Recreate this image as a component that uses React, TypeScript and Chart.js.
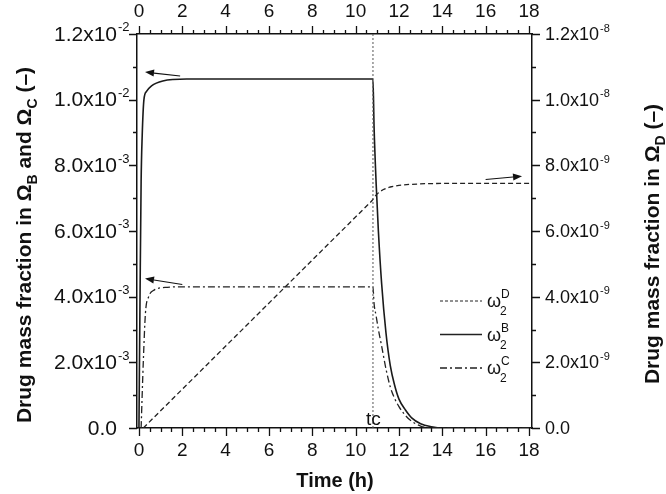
import React, { useEffect, useRef } from "react";
import { Chart, registerables } from "chart.js";

Chart.register(...registerables);

const FONT = '"Liberation Sans", Arial, Helvetica, sans-serif';

// ---- data ----
const tc = 10.8;

const timeB = [0, 0.05, 0.1, 0.15, 0.23, 0.35, 0.58, 1.1, 2.2, 5, 10.8, 10.85, 10.95, 11.05, 11.2, 11.4, 11.6, 11.8, 12.0, 12.3, 12.6, 13.0, 13.5, 14.0, 18.14];
const omegaB = [0, 0.004, 0.0075, 0.0089, 0.01, 0.01025, 0.01042, 0.01057, 0.01063, 0.01063, 0.01063, 0.0092, 0.0074, 0.006, 0.0044, 0.0029, 0.0019, 0.0013, 0.00088, 0.00055, 0.0003, 0.00013, 0.00004, 0, 0];

const timeC = [0.1, 0.2, 0.3, 0.45, 0.7, 1.2, 2.0, 10.8, 10.85, 10.95, 11.05, 11.2, 11.4, 11.6, 11.8, 12.0, 12.2, 12.5, 13.0, 13.5, 18.14];
const omegaC = [0, 0.002, 0.0035, 0.004, 0.0042, 0.00428, 0.0043, 0.0043, 0.0038, 0.0034, 0.003, 0.0025, 0.0018, 0.00125, 0.0009, 0.00065, 0.00046, 0.00025, 0.00006, 0, 0];

const timeD = [0.2, 10.75, 10.85, 10.95, 11.1, 11.3, 11.6, 12.0, 12.5, 13.2, 14.0, 18.14];
const omegaD = [0, 6.92e-9, 7.02e-9, 7.1e-9, 7.19e-9, 7.27e-9, 7.34e-9, 7.39e-9, 7.42e-9, 7.44e-9, 7.45e-9, 7.45e-9];

const xMajor = [0, 2, 4, 6, 8, 10, 12, 14, 16, 18];
const xLabels = ["0", "2", "4", "6", "8", "10", "12", "14", "16", "18"];
const yLeftTicks = [0, 0.002, 0.004, 0.006, 0.008, 0.01, 0.012];
const yLeftMant = ["0.0", "2.0x10", "4.0x10", "6.0x10", "8.0x10", "1.0x10", "1.2x10"];
const yLeftExp = ["", "-3", "-3", "-3", "-3", "-2", "-2"];
const yRightTicks = [0, 2e-9, 4e-9, 6e-9, 8e-9, 1e-8, 1.2e-8];
const yRightMant = ["0.0", "2.0x10", "4.0x10", "6.0x10", "8.0x10", "1.0x10", "1.2x10"];
const yRightExp = ["", "-9", "-9", "-9", "-9", "-8", "-8"];

// arrows in data units: [x0, y0, x1, y1, axis]
const arrows: [number, number, number, number, string][] = [
  [1.9, 0.01072, 0.28, 0.01084, "y"],
  [2.0, 0.00437, 0.28, 0.00455, "y"],
  [16.0, 7.57e-9, 17.68, 7.67e-9, "y2"],
];

const X_MIN = -0.09;
const X_MAX = 18.14;

const INK = "#111";

// anchor: x is right end of mantissa ("right") or left start ("left"); exponent hangs after mantissa
function drawSci(ctx: CanvasRenderingContext2D, mant: string, exp: string, x: number, y: number, align: string, size: number) {
  const es = Math.round(size * 0.62);
  ctx.font = `${size}px ${FONT}`;
  const wm = ctx.measureText(mant).width;
  const sx = align === "right" ? x - wm : x;
  ctx.textAlign = "left";
  ctx.textBaseline = "middle";
  ctx.fillText(mant, sx, y + 1);
  if (exp) {
    ctx.font = `${es}px ${FONT}`;
    ctx.fillText(exp, sx + wm + 1, y - size * 0.3);
  }
}

type Seg = { t: string; sub?: boolean; sup?: boolean };

function richWidth(ctx: CanvasRenderingContext2D, segs: Seg[], size: number, bold: boolean) {
  let w = 0;
  for (const s of segs) {
    const fs = s.sub || s.sup ? Math.round(size * 0.65) : size;
    ctx.font = `${bold ? "bold " : ""}${fs}px ${FONT}`;
    w += ctx.measureText(s.t).width;
  }
  return w;
}

function drawRich(ctx: CanvasRenderingContext2D, segs: Seg[], x: number, y: number, size: number, bold: boolean) {
  let cx = x;
  ctx.textAlign = "left";
  ctx.textBaseline = "alphabetic";
  for (const s of segs) {
    const fs = s.sub || s.sup ? Math.round(size * 0.65) : size;
    ctx.font = `${bold ? "bold " : ""}${fs}px ${FONT}`;
    const dy = s.sub ? size * 0.3 : s.sup ? -size * 0.45 : 0;
    ctx.fillText(s.t, cx, y + dy);
    cx += ctx.measureText(s.t).width;
  }
}

function arrow(ctx: CanvasRenderingContext2D, x0: number, y0: number, x1: number, y1: number) {
  const ang = Math.atan2(y1 - y0, x1 - x0);
  const hl = 9;
  const hw = 3.5;
  const bx = x1 - hl * Math.cos(ang);
  const by = y1 - hl * Math.sin(ang);
  ctx.beginPath();
  ctx.moveTo(x0, y0);
  ctx.lineTo(bx, by);
  ctx.lineWidth = 1.1;
  ctx.strokeStyle = INK;
  ctx.setLineDash([]);
  ctx.stroke();
  ctx.beginPath();
  ctx.moveTo(x1, y1);
  ctx.lineTo(bx + hw * Math.sin(ang), by - hw * Math.cos(ang));
  ctx.lineTo(bx - hw * Math.sin(ang), by + hw * Math.cos(ang));
  ctx.closePath();
  ctx.fillStyle = INK;
  ctx.fill();
}

const decor = {
  id: "decor",
  afterDraw(chart: any) {
    const { ctx, chartArea: ca, scales } = chart;
    const sx = scales.x;
    const sy = scales.y;
    const sy2 = scales.y2;
    ctx.save();
    ctx.strokeStyle = INK;
    ctx.fillStyle = INK;
    ctx.lineWidth = 1.3;
    ctx.setLineDash([]);
    // x ticks
    for (let v = 0; v <= 18.001; v += 0.5) {
      const px = Math.round(sx.getPixelForValue(v)) + 0.5;
      const major = Math.abs(v / 2 - Math.round(v / 2)) < 1e-6;
      const len = major ? 8 : 4;
      ctx.beginPath();
      ctx.moveTo(px, ca.bottom);
      ctx.lineTo(px, ca.bottom + len);
      ctx.moveTo(px, ca.top);
      ctx.lineTo(px, ca.top - len);
      ctx.stroke();
    }
    // y ticks
    for (let i = 0; i <= 12; i++) {
      const py = Math.round(sy.getPixelForValue(i * 0.001)) + 0.5;
      const len = i % 2 === 0 ? 8 : 4;
      ctx.beginPath();
      ctx.moveTo(ca.left - len, py);
      ctx.lineTo(ca.left, py);
      ctx.moveTo(ca.right, py);
      ctx.lineTo(ca.right + len, py);
      ctx.stroke();
    }
    // x labels
    ctx.font = `19px ${FONT}`;
    ctx.textAlign = "center";
    ctx.textBaseline = "middle";
    xMajor.forEach((v, i) => {
      const px = sx.getPixelForValue(v);
      ctx.fillText(xLabels[i], px, ca.bottom + 23);
      ctx.fillText(xLabels[i], px, ca.top - 22);
    });
    // y labels
    yLeftTicks.forEach((v, i) => {
      drawSci(ctx, yLeftMant[i], yLeftExp[i], ca.left - 20, sy.getPixelForValue(v), "right", 21);
    });
    yRightTicks.forEach((v, i) => {
      drawSci(ctx, yRightMant[i], yRightExp[i], ca.right + 13, sy2.getPixelForValue(v), "left", 18);
    });
    // axis titles
    const leftTitle: Seg[] = [
      { t: "Drug mass fraction in Ω" },
      { t: "B", sub: true },
      { t: " and Ω" },
      { t: "C", sub: true },
      { t: " (–)" },
    ];
    const rightTitle: Seg[] = [
      { t: "Drug mass fraction in Ω" },
      { t: "D", sub: true },
      { t: " (–)" },
    ];
    const TS = 21;
    ctx.save();
    ctx.translate(31, 245);
    ctx.rotate(-Math.PI / 2);
    const wl = richWidth(ctx, leftTitle, TS, true);
    drawRich(ctx, leftTitle, -wl / 2, 0, TS, true);
    ctx.restore();
    ctx.save();
    ctx.translate(659, 244);
    ctx.rotate(-Math.PI / 2);
    const wr = richWidth(ctx, rightTitle, TS, true);
    drawRich(ctx, rightTitle, -wr / 2, 0, TS, true);
    ctx.restore();
    ctx.font = `bold 20px ${FONT}`;
    ctx.textAlign = "center";
    ctx.textBaseline = "alphabetic";
    ctx.fillText("Time (h)", 335, 487);

    // tc label
    ctx.font = `19px ${FONT}`;
    ctx.textAlign = "center";
    ctx.fillText("tc", sx.getPixelForValue(tc) + 0.5, ca.bottom - 3);

    // arrows
    arrows.forEach(([a, b, c, d, ax]) => {
      const s = scales[ax];
      arrow(ctx, sx.getPixelForValue(a), s.getPixelForValue(b), sx.getPixelForValue(c), s.getPixelForValue(d));
    });

    // legend
    const rows = [
      { dash: [3, 2], w: 1, sup: "D" },
      { dash: [], w: 1.6, sup: "B" },
      { dash: [7, 3, 2, 3], w: 1.3, sup: "C" },
    ];
    const lx0 = 440;
    const lx1 = 482;
    rows.forEach((r, i) => {
      const ly = 301 + i * 33.5;
      ctx.beginPath();
      ctx.setLineDash(r.dash);
      ctx.lineWidth = r.w;
      ctx.strokeStyle = "#222";
      ctx.moveTo(lx0, ly);
      ctx.lineTo(lx1, ly);
      ctx.stroke();
      ctx.setLineDash([]);
      ctx.textAlign = "left";
      ctx.textBaseline = "alphabetic";
      ctx.font = `18px ${FONT}`;
      ctx.fillText("ω", 487, ly + 6);
      const ww = ctx.measureText("ω").width;
      ctx.font = `12px ${FONT}`;
      ctx.fillText("2", 487 + ww - 1, ly + 14);
      ctx.fillText(r.sup, 487 + ww, ly - 3);
    });
    ctx.restore();
  },
};

function pts(xs: number[], ys: number[]) {
  return xs.map((x, i) => ({ x, y: ys[i] }));
}

export default function App() {
  const ref = useRef<HTMLCanvasElement | null>(null);
  useEffect(() => {
    if (!ref.current) return;
    const axisBorder = { display: true, color: INK, width: 1.5 };
    const chart = new Chart(ref.current, {
      type: "line",
      data: {
        datasets: [
          {
            label: "tc",
            data: [{ x: tc, y: 0 }, { x: tc, y: 0.012 }],
            borderColor: "#555",
            borderWidth: 1,
            borderDash: [2, 2],
            pointRadius: 0,
            xAxisID: "x",
            yAxisID: "y",
          },
          {
            label: "omega2D",
            data: pts(timeD, omegaD),
            borderColor: "#222",
            borderWidth: 1.3,
            borderDash: [5, 3],
            pointRadius: 0,
            tension: 0,
            xAxisID: "x",
            yAxisID: "y2",
          },
          {
            label: "omega2C",
            data: pts(timeC, omegaC),
            borderColor: "#222",
            borderWidth: 1.3,
            borderDash: [7, 3, 2, 3],
            pointRadius: 0,
            cubicInterpolationMode: "monotone",
            xAxisID: "x",
            yAxisID: "y",
          },
          {
            label: "omega2B",
            data: pts(timeB, omegaB),
            borderColor: "#1a1a1a",
            borderWidth: 1.6,
            pointRadius: 0,
            cubicInterpolationMode: "monotone",
            xAxisID: "x",
            yAxisID: "y",
          },
        ],
      } as any,
      options: {
        animation: false,
        responsive: false,
        devicePixelRatio: 1,
        layout: { padding: 0 },
        plugins: { legend: { display: false }, tooltip: { enabled: false } },
        scales: {
          x: {
            type: "linear",
            position: "bottom",
            min: X_MIN,
            max: X_MAX,
            ticks: { display: false },
            grid: { display: false },
            border: axisBorder,
            afterFit: (s: any) => {
              s.height = 66;
            },
          },
          x2: {
            type: "linear",
            position: "top",
            min: X_MIN,
            max: X_MAX,
            ticks: { display: false },
            grid: { display: false },
            border: axisBorder,
            afterFit: (s: any) => {
              s.height = 34;
            },
          },
          y: {
            type: "linear",
            position: "left",
            min: 0,
            max: 0.012,
            ticks: { display: false },
            grid: { display: false },
            border: axisBorder,
            afterFit: (s: any) => {
              s.width = 137;
            },
          },
          y2: {
            type: "linear",
            position: "right",
            min: 0,
            max: 1.2e-8,
            ticks: { display: false },
            grid: { display: false },
            border: axisBorder,
            afterFit: (s: any) => {
              s.width = 134;
            },
          },
        },
      } as any,
      plugins: [decor],
    });
    return () => chart.destroy();
  }, []);
  return (
    <div style={{ position: "absolute", left: 0, top: 0, width: 666, height: 494, background: "#fff" }}>
      <canvas ref={ref} width={666} height={494} style={{ display: "block", width: 666, height: 494 }} />
    </div>
  );
}
